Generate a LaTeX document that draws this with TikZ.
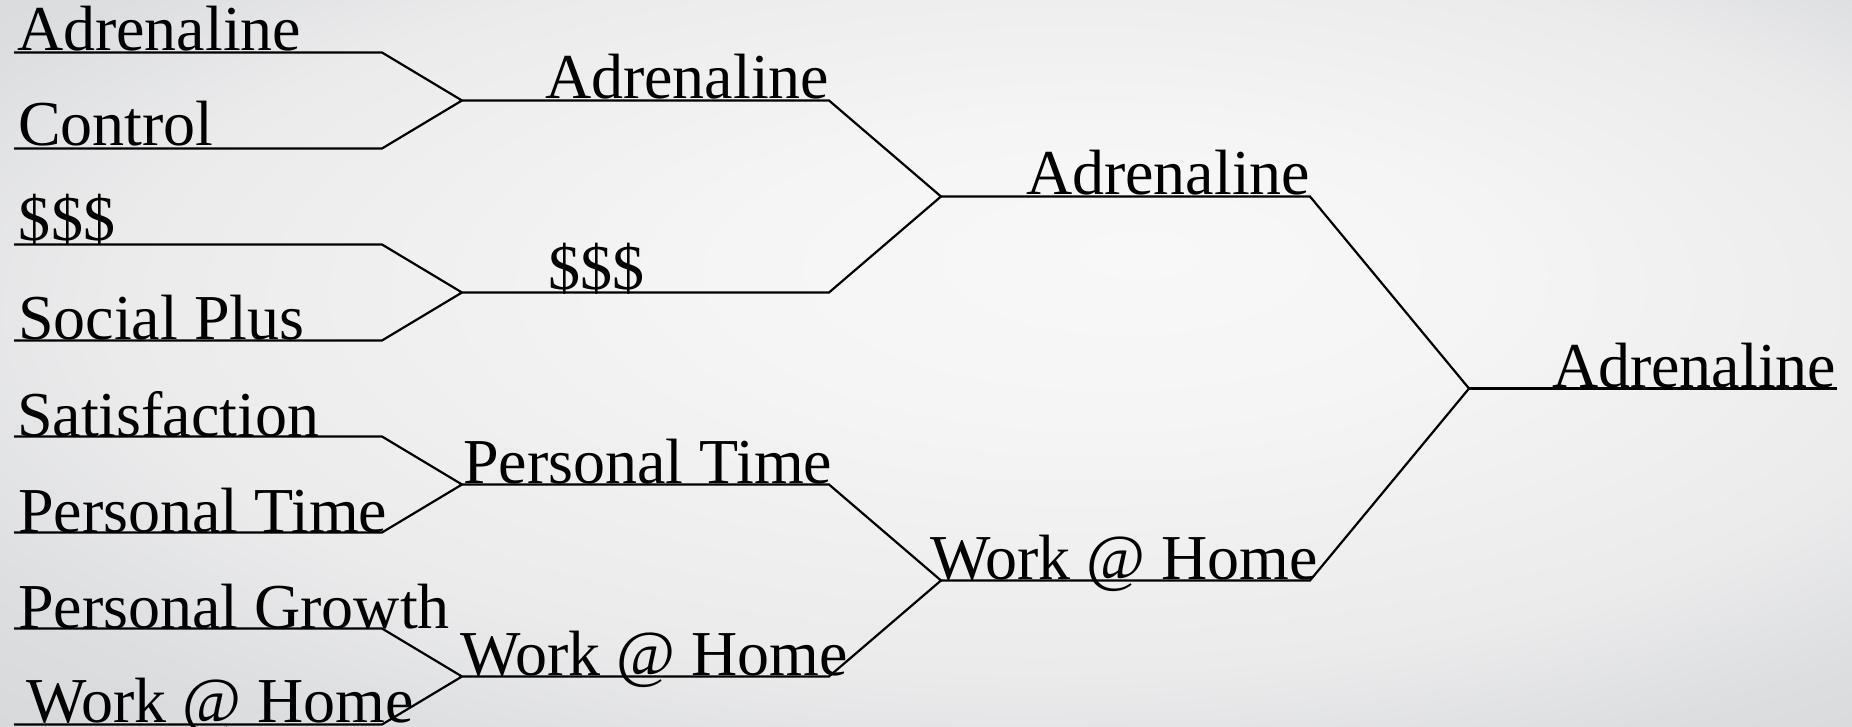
\documentclass[tikz,border=0pt]{standalone}
\usepackage{fontspec}
\setmainfont{Liberation Serif}
\definecolor{bgA}{HTML}{F8F8F8}
\definecolor{bgB}{HTML}{F5F5F5}
\definecolor{bgC}{HTML}{EBEBEC}
\definecolor{bgD}{HTML}{DDDEE0}
\definecolor{bgE}{HTML}{D0D2D4}
\pgfdeclareradialshading{bgshade}{\pgfpoint{6bp}{7.75bp}}{color(0bp)=(bgA); color(10bp)=(bgB); color(25bp)=(bgC); color(32.5bp)=(bgD); color(45bp)=(bgE); color(50bp)=(bgE)}
\begin{document}
\begin{tikzpicture}[x=1pt,y=-1pt,
  lbl/.style={anchor=base west, inner sep=0pt, outer sep=0pt, font=\fontsize{64}{70}\selectfont},
  bline/.style={draw=black, line width=2.2pt, line join=miter}]
\useasboundingbox (0,0) rectangle (1852,727);
\fill[bgE] (0,0) rectangle (1852,727);
\shade[shading=bgshade] (0,0) rectangle (1852,727);

% leaf line coordinates
\foreach \i/\y in {1/52.5,2/148.5,3/244.5,4/340.5,5/436.5,6/532.5,7/628.5,8/724.5}{
  \coordinate (s\i) at (14,\y);
  \coordinate (e\i) at (382,\y);
}
% round 2
\coordinate (j1) at (462,100.5); \coordinate (m1) at (829,100.5);
\coordinate (j2) at (462,292.5); \coordinate (m2) at (829,292.5);
\coordinate (j3) at (462,484.5); \coordinate (m3) at (829,484.5);
\coordinate (j4) at (462,676.5); \coordinate (m4) at (829,676.5);
% round 3
\coordinate (k1) at (941,196.5); \coordinate (n1) at (1310,196.5);
\coordinate (k2) at (941,580.5); \coordinate (n2) at (1310,580.5);
% final
\coordinate (f) at (1469,388.5); \coordinate (fe) at (1837,388.5);

% brackets
\draw[bline] (s1) -- (e1) -- (j1) -- (e2) -- (s2);
\draw[bline] (s3) -- (e3) -- (j2) -- (e4) -- (s4);
\draw[bline] (s5) -- (e5) -- (j3) -- (e6) -- (s6);
\draw[bline] (s7) -- (e7) -- (j4) -- (e8) -- (s8);
\draw[bline] (j1) -- (m1) -- (k1) -- (m2) -- (j2);
\draw[bline] (j3) -- (m3) -- (k2) -- (m4) -- (j4);
\draw[bline] (k1) -- (n1) -- (f) -- (n2) -- (k2);
\draw[bline] (f) -- (fe);

% leaf labels
\node[lbl] (t1) at (17,51) {Adrenaline};
\node[lbl] (t2) at (18,146) {Control};
\node[lbl] (t3) at (19,241) {\$\$\$};
\node[lbl] (t4) at (18,339) {Social Plus};
\node[lbl] (t5) at (17,436) {Satisfaction};
\node[lbl] (t6) at (18,532) {Personal Time};
\node[lbl] (t7) at (18,628) {Personal Growth};
\node[lbl] (t8) at (26,722) {Work @ Home};
% round 2 labels
\node[lbl] (u1) at (545,99) {Adrenaline};
\node[lbl] (u2) at (548,290) {\$\$\$};
\node[lbl] (u3) at (463,483) {Personal Time};
\node[lbl] (u4) at (460,675) {Work @ Home};
% round 3 labels
\node[lbl] (v1) at (1026,195) {Adrenaline};
\node[lbl] (v2) at (930,579) {Work @ Home};
% final
\node[lbl] (w) at (1552,387) {Adrenaline};
\end{tikzpicture}
\end{document}
